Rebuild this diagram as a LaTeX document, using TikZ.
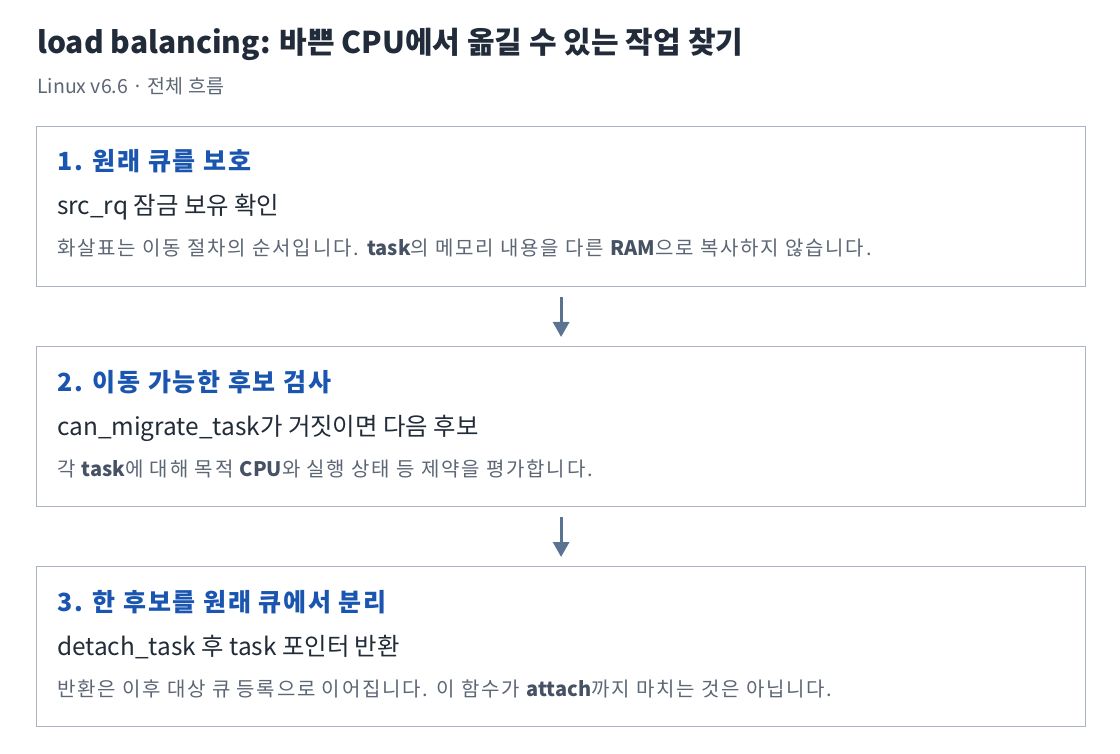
\documentclass[tikz,border=0pt]{standalone}
\usepackage{fontspec}
\setmainfont{Noto Sans CJK KR}
\newfontfamily\notefont[LetterSpace=9]{Noto Sans CJK KR}
\newfontfamily\headfont[LetterSpace=7]{Noto Sans CJK KR}
\newfontfamily\keyfont{Noto Sans CJK KR}
\usepackage{tikz}
\usepackage{xcolor}
\usetikzlibrary{arrows.meta, positioning}
\definecolor{titlecolor}{RGB}{33,43,58}
\definecolor{subcolor}{RGB}{92,102,117}
\definecolor{headcolor}{RGB}{26,86,176}
\definecolor{bodycolor}{RGB}{34,43,56}
\definecolor{notecolor}{RGB}{92,102,117}
\definecolor{keycolor}{RGB}{70,82,100}
\definecolor{bordercolor}{RGB}{170,180,195}
\definecolor{arrowcolor}{RGB}{90,115,144}
\tikzstyle{stepbox} = [rectangle, draw=bordercolor, line width=1.2pt, fill=white, minimum width=1049pt, minimum height=160pt, anchor=north west, inner sep=0pt]
\tikzstyle{steptitle} = [anchor=base west, inner sep=0pt, font=\headfont\fontsize{25}{29}\selectfont\bfseries, color=headcolor]
\tikzstyle{stepmain} = [anchor=base west, inner sep=0pt, font=\fontsize{24.4}{28}\selectfont, color=bodycolor]
\tikzstyle{stepnote} = [anchor=base west, inner sep=0pt, font=\notefont\fontsize{20}{24}\selectfont, color=notecolor]
\tikzstyle{flowarrow} = [-{Triangle[width=16pt,length=15pt]}, line width=3pt, color=arrowcolor, shorten <=10pt, shorten >=9pt]
\newcommand{\kw}[1]{{\keyfont\bfseries\color{keycolor}#1}}

\begin{document}
\begin{tikzpicture}[x=1pt, y=-1pt]
    \useasboundingbox[fill=white] (0,0) rectangle (1120,754);

    % Title
    \node[anchor=base west, inner sep=0pt, font=\fontsize{30}{34}\selectfont\bfseries, color=titlecolor] (title) at (37,54) {load balancing: 바쁜 CPU에서 옮길 수 있는 작업 찾기};
    \node[anchor=base west, inner sep=0pt, font=\fontsize{19.5}{23}\selectfont, color=subcolor] (subtitle) at (37,94) {Linux v6.6 · 전체 흐름};

    % Step 1
    \node[stepbox] (box1) at (36,126) {};
    \node[steptitle] (head1) at (57,171) {1. 원래 큐를 보호};
    \node[stepmain] (main1) at (57,215) {src\_rq 잠금 보유 확인};
    \node[stepnote] (note1) at (57,256) {화살표는 이동 절차의 순서입니다. \kw{task}의 메모리 내용을 다른 \kw{RAM}으로 복사하지 않습니다.};

    % Step 2
    \node[stepbox] (box2) at (36,346) {};
    \node[steptitle] (head2) at (57,391) {2. 이동 가능한 후보 검사};
    \node[stepmain] (main2) at (57,435) {can\_migrate\_task가 거짓이면 다음 후보};
    \node[stepnote] (note2) at (57,476) {각 \kw{task}에 대해 목적 \kw{CPU}와 실행 상태 등 제약을 평가합니다.};

    % Step 3
    \node[stepbox] (box3) at (36,566) {};
    \node[steptitle] (head3) at (57,611) {3. 한 후보를 원래 큐에서 분리};
    \node[stepmain] (main3) at (57,655) {detach\_task 후 task 포인터 반환};
    \node[stepnote] (note3) at (57,696) {반환은 이후 대상 큐 등록으로 이어집니다. 이 함수가 \kw{attach}까지 마치는 것은 아닙니다.};

    % Flow
    \draw[flowarrow] (box1.south) -- (box2.north);
    \draw[flowarrow] (box2.south) -- (box3.north);
\end{tikzpicture}
\end{document}
